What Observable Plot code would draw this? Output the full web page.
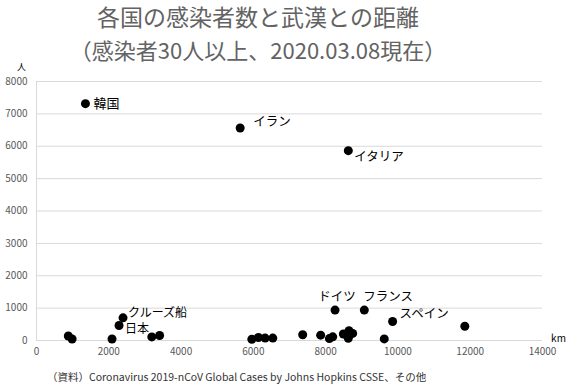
<!DOCTYPE html>
<html><head><meta charset="utf-8">
<script src="https://cdn.jsdelivr.net/npm/d3@7"></script>
<script src="https://cdn.jsdelivr.net/npm/@observablehq/plot@0.6"></script>
<style>
body{margin:0;background:#fff;width:570px;height:390px;overflow:hidden;font-family:"Noto Sans CJK JP","Noto Sans",sans-serif;}
#title{width:516px;height:62px;text-align:center;color:#636363;font-size:23px;line-height:33px;padding-top:0;}
#title div{white-space:nowrap;}
#title .l2{font-size:22px;}
#chart{height:300px;}
#cap{padding-left:47px;font-size:10.5px;color:#333;height:28px;line-height:16px;margin-top:7px;white-space:nowrap;}
</style></head><body>
<div id="title"><div>各国の感染者数と武漢との距離</div><div class="l2">（感染者30人以上、2020.03.08現在）</div></div>
<div id="chart"></div>
<div id="cap">（資料）Coronavirus 2019-nCoV Global Cases by Johns Hopkins CSSE、その他</div>
<script>
// distance from Wuhan (km), infected count
const distances = [1354, 5635, 8627, 2394, 2284, 880, 985, 2090, 3190, 3406, 5958, 6141, 6326, 6538, 7365, 7862, 8103, 8196, 8260, 8490, 8646, 8627, 8748, 9070, 9622, 9853, 11851];
const cases     = [7315, 6564, 5864, 700, 463, 140, 45, 45, 110, 155, 40, 93, 75, 75, 176, 164, 60, 113, 940, 200, 300, 70, 220, 940, 50, 586, 441];
const names     = ["韓国", "イラン", "イタリア", "クルーズ船", "日本", "", "", "", "", "", "", "", "", "", "", "", "", "", "ドイツ", "", "", "", "", "フランス", "", "スペイン", ""];
const xTicks = [0, 2000, 4000, 6000, 8000, 10000, 12000, 14000];
const yTicks = [0, 1000, 2000, 3000, 4000, 5000, 6000, 7000, 8000];

const data = distances.map((d, i) => ({x: d, y: cases[i], name: names[i]}));
const lab = (n) => data.filter(d => d.name === n);
const font = "Noto Sans CJK JP";

const chart = Plot.plot({
  width: 570, height: 300,
  marginLeft: 36, marginRight: 28, marginTop: 19, marginBottom: 22,
  style: {fontFamily: font, background: "#fff", overflow: "visible"},
  x: {domain: [0, 14000], ticks: xTicks, tickSize: 0, tickPadding: 7, label: null, tickFormat: d => String(d)},
  y: {domain: [0, 8000], ticks: yTicks, tickSize: 0, tickPadding: 9, label: null, tickFormat: d => String(d)},
  marks: [
    Plot.gridY(yTicks, {stroke: "#d9d9d9", strokeOpacity: 1}),
    Plot.ruleX([0], {y1: 0, y2: 8000, stroke: "#d9d9d9"}),
    Plot.ruleY([0], {stroke: "#d9d9d9"}),
    Plot.axisX({ticks: xTicks, tickSize: 0, tickPadding: 7, fontSize: 10, color: "#595959", tickFormat: d => String(d), label: null}),
    Plot.axisY({ticks: yTicks, tickSize: 0, tickPadding: 9, fontSize: 10, color: "#595959", tickFormat: d => String(d), label: null}),
    Plot.dot(data, {x: "x", y: "y", r: 4.5, fill: "#000"}),
    Plot.text(lab("韓国"), {x: "x", y: "y", text: "name", dx: 8, textAnchor: "start", fontSize: 13, fill: "#000"}),
    Plot.text(lab("イラン"), {x: "x", y: "y", text: "name", dx: 13, dy: -6, textAnchor: "start", fontSize: 12.5, fill: "#000"}),
    Plot.text(lab("イタリア"), {x: "x", y: "y", text: "name", dx: 6, dy: 6, textAnchor: "start", fontSize: 12.5, fill: "#000"}),
    Plot.text(lab("クルーズ船"), {x: "x", y: "y", text: "name", dx: 5, dy: -5, textAnchor: "start", fontSize: 12, fill: "#000"}),
    Plot.text(lab("日本"), {x: "x", y: "y", text: "name", dx: 6, dy: 4, textAnchor: "start", fontSize: 12, fill: "#000"}),
    Plot.text(lab("ドイツ"), {x: "x", y: "y", text: "name", dx: 2, dy: -13, textAnchor: "middle", fontSize: 12.5, fill: "#000"}),
    Plot.text(lab("フランス"), {x: "x", y: "y", text: "name", dx: -1, dy: -13, textAnchor: "start", fontSize: 12.5, fill: "#000"}),
    Plot.text(lab("スペイン"), {x: "x", y: "y", text: "name", dx: 7, dy: -8, textAnchor: "start", fontSize: 12.5, fill: "#000"}),
    Plot.text(["km"], {x: 14000, y: 0, dx: 16, dy: -2, fontSize: 10, fill: "#000"}),
    Plot.text(["人"], {x: 0, y: 8000, dx: -15, dy: -14, fontSize: 9, fill: "#000"})
  ]
});
document.getElementById("chart").appendChild(chart);
</script>
</body></html>
